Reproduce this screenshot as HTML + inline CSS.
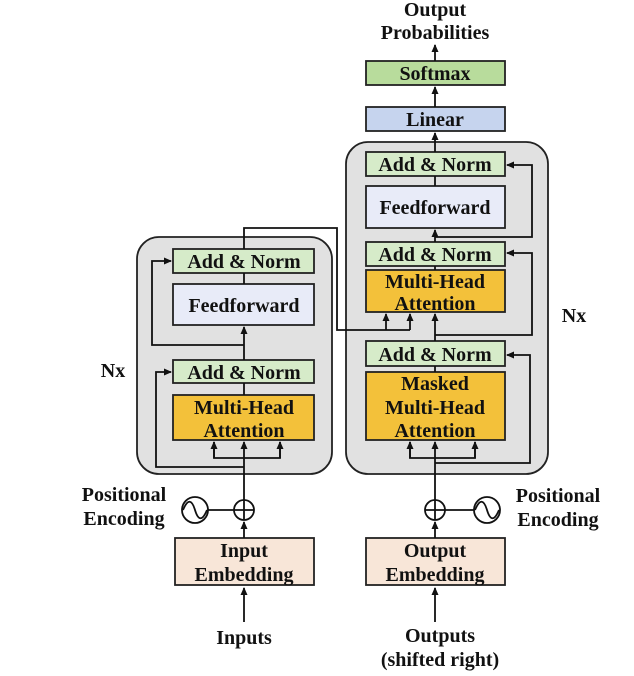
<!DOCTYPE html>
<html><head><meta charset="utf-8"><style>
html,body{margin:0;padding:0;background:#fff;}
svg{display:block;}
text{font-family:"Liberation Serif",serif;font-weight:bold;fill:#111;text-anchor:middle;}
</style></head><body>
<svg width="634" height="676" viewBox="0 0 634 676" xmlns="http://www.w3.org/2000/svg">
<defs>
<marker id="a" markerWidth="8" markerHeight="8" refX="7" refY="4" orient="auto" markerUnits="userSpaceOnUse">
<path d="M0,0.5 L8,4 L0,7.5 z" fill="#111"/>
</marker>
</defs>
<g stroke="#222" stroke-width="1.8">
<rect x="137" y="237" width="195" height="237" rx="22" fill="#e1e1e1"/>
<rect x="346" y="142" width="202" height="332" rx="22" fill="#e1e1e1"/>
<rect x="173" y="249" width="141" height="24" fill="#d6ebc9"/>
<rect x="173" y="284" width="141" height="41" fill="#e8ebf8"/>
<rect x="173" y="360" width="141" height="23" fill="#d6ebc9"/>
<rect x="173" y="395" width="141" height="45" fill="#f3c13a"/>
<rect x="366" y="152" width="139" height="24" fill="#d6ebc9"/>
<rect x="366" y="186" width="139" height="42" fill="#e8ebf8"/>
<rect x="366" y="242" width="139" height="24" fill="#d6ebc9"/>
<rect x="366" y="270" width="139" height="42" fill="#f3c13a"/>
<rect x="366" y="341" width="139" height="25" fill="#d6ebc9"/>
<rect x="366" y="372" width="139" height="68" fill="#f3c13a"/>
<rect x="366" y="107" width="139" height="24" fill="#c6d4ee"/>
<rect x="366" y="61" width="139" height="24" fill="#b8dc9c"/>
<rect x="175" y="538" width="139" height="47" fill="#f8e6d8"/>
<rect x="366" y="538" width="139" height="47" fill="#f8e6d8"/>
</g>
<g stroke="#111" stroke-width="1.8" fill="none">
<line x1="244" y1="622" x2="244" y2="588" marker-end="url(#a)"/>
<line x1="244" y1="538" x2="244" y2="522" marker-end="url(#a)"/>
<line x1="244" y1="500" x2="244" y2="442" marker-end="url(#a)"/>
<polyline points="214,442 214,458 280,458 280,442" />
<line x1="214" y1="458" x2="214" y2="442" marker-end="url(#a)"/>
<line x1="280" y1="458" x2="280" y2="442" marker-end="url(#a)"/>
<polyline points="244,467 156,467 156,372 171,372" marker-end="url(#a)"/>
<line x1="244" y1="395" x2="244" y2="383"/>
<line x1="244" y1="360" x2="244" y2="327" marker-end="url(#a)"/>
<polyline points="244,345 152,345 152,261 171,261" marker-end="url(#a)"/>
<line x1="244" y1="284" x2="244" y2="273"/>
<polyline points="244,249 244,228 337,228 337,330 410,330"/>
<line x1="386" y1="330" x2="386" y2="314" marker-end="url(#a)"/>
<line x1="410" y1="330" x2="410" y2="314" marker-end="url(#a)"/>
<line x1="208" y1="510" x2="234" y2="510"/>
<line x1="445" y1="510" x2="474" y2="510"/>
<line x1="435" y1="622" x2="435" y2="588" marker-end="url(#a)"/>
<line x1="435" y1="538" x2="435" y2="522" marker-end="url(#a)"/>
<line x1="435" y1="500" x2="435" y2="442" marker-end="url(#a)"/>
<polyline points="410,442 410,458 475,458 475,442"/>
<line x1="410" y1="458" x2="410" y2="442" marker-end="url(#a)"/>
<line x1="475" y1="458" x2="475" y2="442" marker-end="url(#a)"/>
<polyline points="435,463 530,463 530,355 507,355" marker-end="url(#a)"/>
<line x1="435" y1="372" x2="435" y2="366"/>
<line x1="435" y1="341" x2="435" y2="314" marker-end="url(#a)"/>
<polyline points="435,335 532,335 532,253 507,253" marker-end="url(#a)"/>
<line x1="435" y1="270" x2="435" y2="266"/>
<line x1="435" y1="242" x2="435" y2="230" marker-end="url(#a)"/>
<polyline points="435,237 532,237 532,165 507,165" marker-end="url(#a)"/>
<line x1="435" y1="186" x2="435" y2="176"/>
<line x1="435" y1="152" x2="435" y2="133" marker-end="url(#a)"/>
<line x1="435" y1="107" x2="435" y2="87" marker-end="url(#a)"/>
<line x1="435" y1="61" x2="435" y2="45" marker-end="url(#a)"/>
<circle cx="244" cy="510" r="10" fill="#fff"/>
<line x1="234" y1="510" x2="254" y2="510"/><line x1="244" y1="500" x2="244" y2="520"/>
<circle cx="435" cy="510" r="10" fill="#fff"/>
<line x1="425" y1="510" x2="445" y2="510"/><line x1="435" y1="500" x2="435" y2="520"/>
<circle cx="195" cy="510" r="13" fill="#fff"/>
<path d="M183,510 C188,498 192,500 195,510 C198,520 202,522 207,510"/>
<circle cx="487" cy="510" r="13" fill="#fff"/>
<path d="M475,510 C480,498 484,500 487,510 C490,520 494,522 499,510"/>
</g>
<g font-size="20">
<text x="435" y="16">Output</text>
<text x="435" y="39">Probabilities</text>
<text x="435" y="80">Softmax</text>
<text x="435" y="126">Linear</text>
<text x="435" y="171">Add &amp; Norm</text>
<text x="435" y="214">Feedforward</text>
<text x="435" y="261">Add &amp; Norm</text>
<text x="435" y="288">Multi-Head</text>
<text x="435" y="310">Attention</text>
<text x="435" y="361">Add &amp; Norm</text>
<text x="435" y="390">Masked</text>
<text x="435" y="414">Multi-Head</text>
<text x="435" y="437">Attention</text>
<text x="244" y="268">Add &amp; Norm</text>
<text x="244" y="312">Feedforward</text>
<text x="244" y="379">Add &amp; Norm</text>
<text x="244" y="414">Multi-Head</text>
<text x="244" y="437">Attention</text>
<text x="244" y="557">Input</text>
<text x="244" y="581">Embedding</text>
<text x="435" y="557">Output</text>
<text x="435" y="581">Embedding</text>
<text x="244" y="644">Inputs</text>
<text x="440" y="642">Outputs</text>
<text x="440" y="666">(shifted right)</text>
<text x="124" y="501">Positional</text>
<text x="124" y="525">Encoding</text>
<text x="558" y="502">Positional</text>
<text x="558" y="526">Encoding</text>
<text x="113" y="377">Nx</text>
<text x="574" y="322">Nx</text>
</g>
</svg>
</body></html>
